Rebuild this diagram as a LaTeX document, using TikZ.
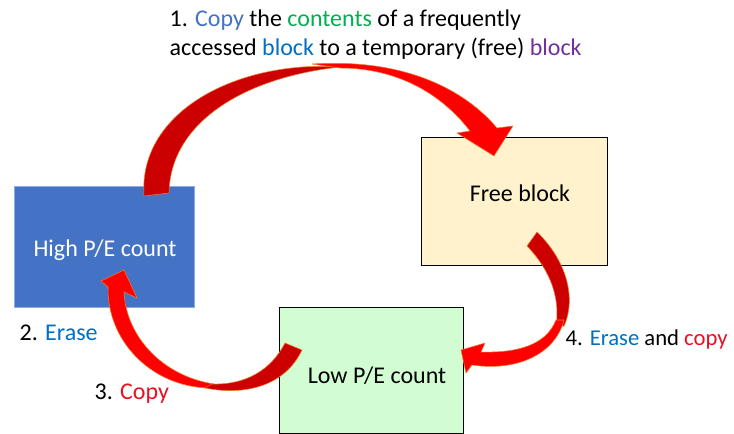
\documentclass[tikz,border=0pt]{standalone}
\usepackage{fontspec}
\setmainfont{Carlito}
\usepackage{tikz}
\usetikzlibrary{positioning}
\definecolor{copyblue}{HTML}{4472C4}
\definecolor{erasblue}{HTML}{0070C0}
\definecolor{contgreen}{HTML}{00B050}
\definecolor{blkpurple}{HTML}{7030A0}
\definecolor{copyred}{HTML}{E81123}
\definecolor{highfill}{HTML}{4472C4}
\definecolor{highline}{HTML}{8FAADC}
\definecolor{freefill}{HTML}{FFF2CC}
\definecolor{lowfill}{HTML}{D2FDD2}
\colorlet{arrowdark}{red!80!black}
\colorlet{arrowbright}{red}
\definecolor{arrowline}{HTML}{ED7D31}
\tikzset{
  blockbox/.style={draw=black, line width=0.6pt, inner sep=0pt},
  boxtext/.style={anchor=base, font=\fontsize{18}{23}\selectfont},
  steptext/.style={anchor=base west, font=\fontsize{18}{23}\selectfont},
  darkpart/.style={fill=arrowdark, draw=arrowline, line width=0.4pt},
  brightpart/.style={fill=arrowbright, draw=arrowline, line width=0.4pt}
}

\begin{document}
\begin{tikzpicture}[x=0.75pt, y=-0.75pt]
    \useasboundingbox (0,0) rectangle (734,434);

    % The three blocks
    \node[blockbox, draw=highline, fill=highfill, minimum width=135pt, minimum height=90.75pt] (high) at (104,246.5) {};
    \node[blockbox, fill=freefill, minimum width=139.5pt, minimum height=96pt] (free) at (514,201) {};
    \node[blockbox, fill=lowfill, minimum width=138pt, minimum height=94.5pt] (low) at (371,370) {};

    \node[boxtext, text=white] (hightxt) at (105,257) {High P/E count};
    \node[boxtext] (freetxt) at (520,202) {Free block};
    \node[boxtext] (lowtxt) at (377,383) {Low P/E count};

    % Step 1: curved arrow from high count block to free block
    \draw[darkpart] (144,196) -- (169,193) .. controls (170,125) and (240,78) .. (340,67)
        .. controls (240,60) and (138,110) .. cycle;
    \draw[brightpart] (312,64) .. controls (405,58) and (465,90) .. (497,128) -- (513,126)
        -- (494,156) -- (457,133) -- (470,131) .. controls (440,92) and (395,68) .. (340,68) -- cycle;

    % Step 4: curved arrow from free block to low count block
    \draw[darkpart] (527,246) -- (537,232) .. controls (568,262) and (576,300) .. (564,326)
        -- (556,326) .. controls (560,300) and (552,272) .. cycle;
    \draw[brightpart] (564,320) .. controls (556,352) and (520,372) .. (472,365) -- (466,373)
        -- (461,350) -- (485,343) -- (481,352) .. controls (518,353) and (546,345) .. (556,320) -- cycle;

    % Step 3: curved arrow from low count block back to high count block
    \draw[brightpart] (208,388) .. controls (150,386) and (107,340) .. (108,287) -- (101,281)
        -- (124,270) -- (137,298) -- (124,292) .. controls (126,336) and (162,376) .. (214,384) -- cycle;
    \draw[darkpart] (285,343) -- (302,350) .. controls (285,386) and (245,396) .. (205,388)
        -- (212,384) .. controls (246,385) and (271,370) .. cycle;

    % Step labels
    \node[steptext] (stepone) at (165,27) {1. \textcolor{copyblue}{Copy} the \textcolor{contgreen}{contents} of a frequently};
    \node[steptext] (steponeb) at (165,56) {accessed \textcolor{erasblue}{block} to a temporary (free) \textcolor{blkpurple}{block}};
    \node[steptext] (steptwo) at (15,340) {2. \textcolor{erasblue}{Erase}};
    \node[steptext] (stepthree) at (90,399) {3. \textcolor{copyred}{Copy}};
    \node[steptext, font=\fontsize{17}{22}\selectfont] (stepfour) at (561,345) {4. \textcolor{erasblue}{Erase} and \textcolor{copyred}{copy}};
\end{tikzpicture}
\end{document}
